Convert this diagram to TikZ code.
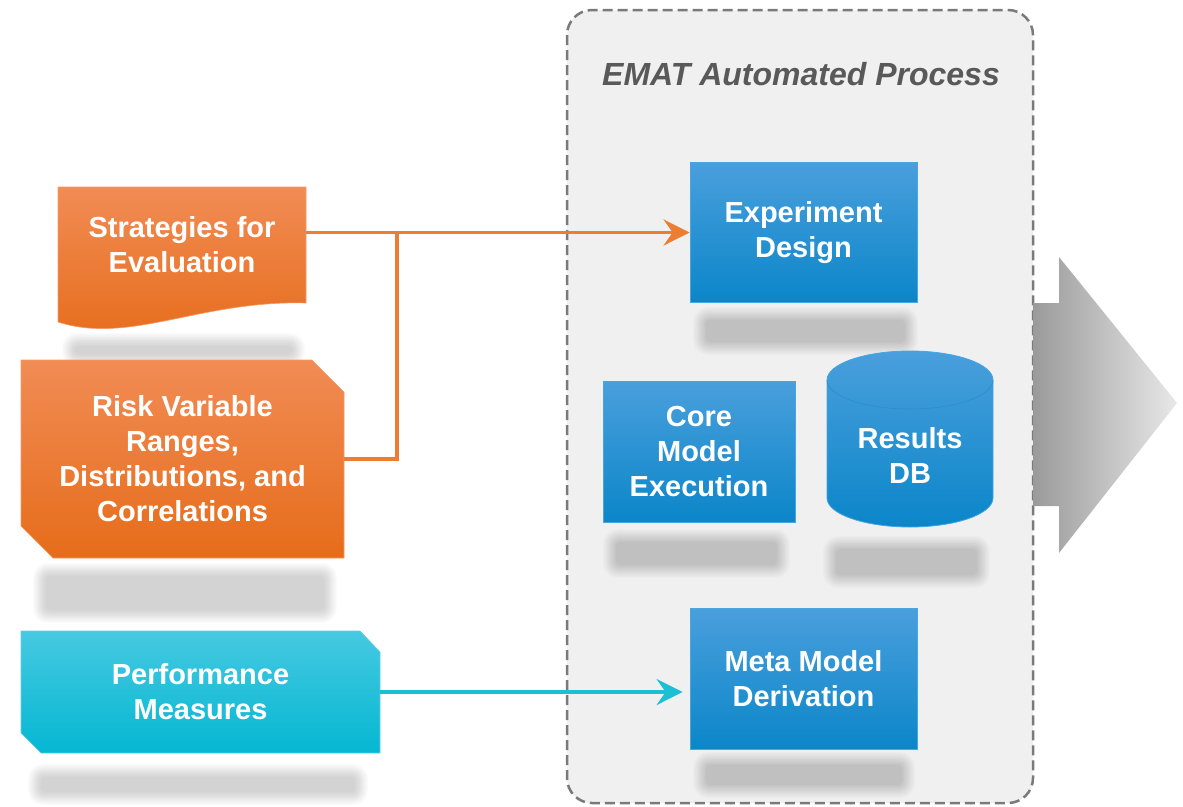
\documentclass[tikz,border=0pt]{standalone}
\usepackage{fontspec}
\setmainfont{Liberation Sans}
\usetikzlibrary{arrows.meta,calc}

\definecolor{orangetop}{HTML}{F18C55}
\definecolor{orangebot}{HTML}{E66C1A}
\definecolor{orangeedge}{HTML}{F39A66}
\definecolor{orangeline}{HTML}{ED7D31}
\definecolor{cyantop}{HTML}{46C9E1}
\definecolor{cyanbot}{HTML}{05B7D2}
\definecolor{cyanedge}{HTML}{5DD0E5}
\definecolor{cyanline}{HTML}{1CBFD3}
\definecolor{bluetop}{HTML}{4A9FDC}
\definecolor{bluebot}{HTML}{0B86C9}
\definecolor{blueedge}{HTML}{45A6E0}
\definecolor{cylrim}{HTML}{2A8ECF}
\definecolor{panelfill}{HTML}{F0F0F0}
\definecolor{paneledge}{HTML}{7A7A7A}
\definecolor{titlegray}{HTML}{595959}
\definecolor{arrowdark}{HTML}{9A9A9A}
\definecolor{arrowlight}{HTML}{E8E8E8}

\tikzset{
  boxtext/.style={text=white, font=\bfseries\fontsize{29}{35}\selectfont,
    align=center, inner sep=0pt},
  bluebox/.style={boxtext, top color=bluetop, bottom color=bluebot,
    draw=blueedge, line width=0.8pt},
  flowline/.style={line width=3.5pt},
  flowtip/.style={-{Stealth[length=26pt, width=26pt, inset=9pt]}},
  panel/.style={draw=paneledge, fill=panelfill, line width=2.5pt,
    dash pattern=on 10pt off 5pt, rounded corners=25pt},
}

% soft grey band used as a blurred shadow below each shape
\newcommand\softband[4]{%
  \foreach \k in {0,...,11}{%
    \pgfmathsetmacro\crad{15-\k*1.0}%
    \fill[black, opacity=0.016, rounded corners=\crad pt]
      (#1+\k*1.2, #2+\k*1.2) rectangle (#3-\k*1.2, #4-\k*1.2);
  }%
}

\begin{document}
\begin{tikzpicture}[x=1pt, y=-1pt]
\useasboundingbox (0,0) rectangle (1183,806);

% ---------- automated process panel ----------
\draw[panel] (567,10) rectangle (1033,803);
\node[anchor=base, text=titlegray,
      font=\bfseries\itshape\fontsize{32}{38}\selectfont] (title) at (801,85)
      {EMAT Automated Process};

% ---------- shadows ----------
\softband{62}{333}{305}{367}
\softband{33}{563}{337}{623}
\softband{28}{764}{368}{805}
\softband{693}{307}{918}{355}
\softband{603}{529}{790}{578}
\softband{823}{536}{990}{588}
\softband{693}{752}{915}{798}

% ---------- input shapes ----------
\shade[top color=orangetop, bottom color=orangebot, draw=orangeedge, line width=0.6pt]
  (58,187) -- (306,187) -- (306,303)
  .. controls (200,300) and (130,345) .. (58,322) -- cycle;
\node[boxtext, minimum width=248pt, minimum height=116pt] (strat) at (182,245)
  {Strategies for\\Evaluation};

\shade[top color=orangetop, bottom color=orangebot, draw=orangeedge, line width=0.6pt]
  (21,360) -- (312,360) -- (344,392) -- (344,558) -- (53,558) -- (21,526) -- cycle;
\node[boxtext, minimum width=323pt, minimum height=198pt] (risk) at (182.5,459)
  {Risk Variable\\Ranges,\\Distributions, and\\Correlations};

\shade[top color=cyantop, bottom color=cyanbot, draw=cyanedge, line width=0.6pt]
  (21,631) -- (360,631) -- (380,652) -- (380,753) -- (41,753) -- (21,733) -- cycle;
\node[boxtext, minimum width=359pt, minimum height=122pt] (perf) at (200.5,692)
  {Performance\\Measures};

% ---------- process steps ----------
\node[bluebox, minimum width=227pt, minimum height=140pt] (ed) at (803.5,232.5)
  {Experiment\\Design};
\node[bluebox, minimum width=192pt, minimum height=141pt] (core) at (699,451.5)
  {Core\\Model\\Execution};
\node[bluebox, minimum width=227pt, minimum height=141pt] (meta) at (803.5,678.5)
  {Meta Model\\Derivation};

% results database cylinder
\shade[top color=bluetop, bottom color=bluebot, draw=blueedge, line width=0.8pt]
  (827,380) -- (827,498)
  arc[start angle=180, end angle=0, x radius=83, y radius=29]
  -- (993,380)
  arc[start angle=0, end angle=-180, x radius=83, y radius=29] -- cycle;
\draw[cylrim, line width=0.6pt] (827,380)
  arc[start angle=180, end angle=0, x radius=83, y radius=29];
\node[boxtext] (db) at (910,455) {Results\\DB};

% ---------- output arrow ----------
\shade[left color=arrowdark, right color=arrowlight]
  (1033,303) -- (1059,303) -- (1059,257) -- (1177,403) -- (1059,553)
  -- (1059,506) -- (1033,506) -- cycle;

% ---------- connectors ----------
\coordinate (jn) at (397,233);
\draw[flowline, orangeline] (risk.east) -| (jn);
\draw[flowline, orangeline, flowtip] (strat.east |- ed.west) -- (ed.west);
\draw[flowline, cyanline, flowtip, shorten >=7pt] (perf.east) -- (perf.east -| meta.west);

\end{tikzpicture}
\end{document}
